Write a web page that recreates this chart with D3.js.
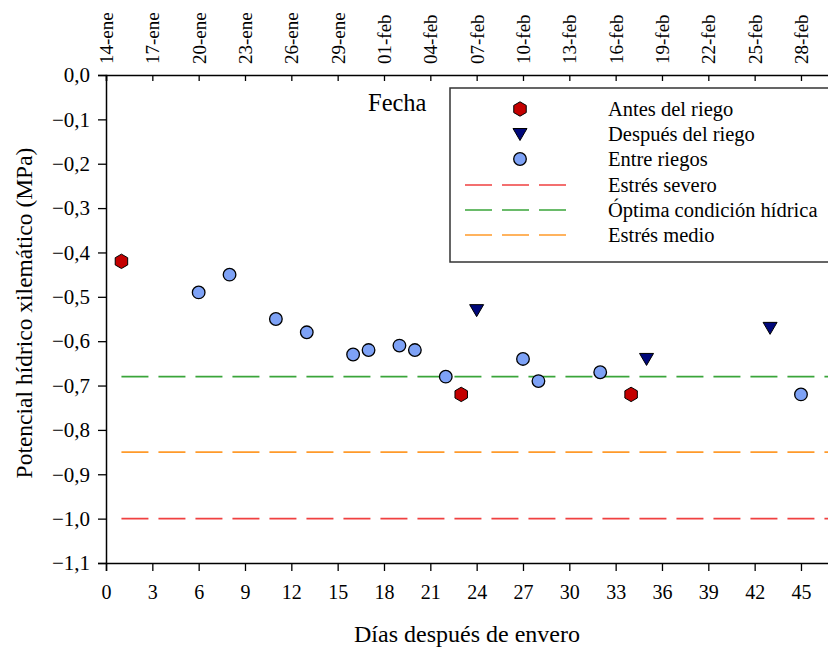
<!DOCTYPE html>
<html>
<head>
<meta charset="utf-8">
<script src="https://cdn.jsdelivr.net/npm/d3@7"></script>
<style>
  body { margin: 0; background: #fff; }
  svg { display: block; font-family: "Liberation Serif", "Times New Roman", serif; }
  svg text { font-family: "Liberation Serif", "Times New Roman", serif; }
</style>
</head>
<body>
<svg id="chart" width="828" height="648"></svg>
<script>
// ---- data ----
const antesDias = [1, 23, 34];
const antesVals = [-0.42, -0.72, -0.72];
const despuesDias = [24, 35, 43];
const despuesVals = [-0.53, -0.64, -0.57];
const entreDias = [6, 8, 11, 13, 16, 17, 19, 20, 22, 27, 28, 32, 45];
const entreVals = [-0.49, -0.45, -0.55, -0.58, -0.63, -0.62, -0.61, -0.62, -0.68, -0.64, -0.69, -0.67, -0.72];
const umbralNombres = ["Estrés severo", "Óptima condición hídrica", "Estrés medio"];
const umbralVals = [-1.0, -0.68, -0.85];
const umbralColores = ["#f04040", "#3aa53a", "#ff9a2a"];
const xTicks = [0, 3, 6, 9, 12, 15, 18, 21, 24, 27, 30, 33, 36, 39, 42, 45];
const fechaLabels = ["14-ene","17-ene","20-ene","23-ene","26-ene","29-ene","01-feb","04-feb","07-feb","10-feb","13-feb","16-feb","19-feb","22-feb","25-feb","28-feb"];
const yTicks = [0, -0.1, -0.2, -0.3, -0.4, -0.5, -0.6, -0.7, -0.8, -0.9, -1.0, -1.1];

const FONT = "'Liberation Serif', 'Times New Roman', serif";
const svg = d3.select("#chart");
const x = d3.scaleLinear().domain([0, 48]).range([106, 106 + 48 * 15.444]);
const y = d3.scaleLinear().domain([-1.1, 0]).range([563, 75]);
const fmt = v => (v === 0 ? "0,0" : d3.format(".1f")(v).replace(".", ",").replace("-", "\u2212"));

// threshold lines
umbralVals.forEach((v, i) => {
  svg.append("line")
    .attr("x1", x(1)).attr("x2", x(48))
    .attr("y1", y(v)).attr("y2", y(v))
    .attr("stroke", umbralColores[i]).attr("stroke-width", 1.6)
    .attr("stroke-dasharray", "27,10");
});

// bottom axis
const gx = svg.append("g").attr("transform", `translate(0,${y(-1.1)})`)
  .call(d3.axisBottom(x).tickValues(xTicks).tickSizeOuter(0).tickSize(8).tickPadding(14).tickFormat(d3.format("d")));
// left axis
const gy = svg.append("g").attr("transform", `translate(${x(0)},0)`)
  .call(d3.axisLeft(y).tickValues(yTicks).tickSizeOuter(0).tickSize(8).tickPadding(8).tickFormat(fmt));
// top axis
const gt = svg.append("g").attr("transform", `translate(0,${y(0)})`)
  .call(d3.axisTop(x).tickValues(xTicks).tickSizeOuter(0).tickSize(-6).tickFormat((d, i) => fechaLabels[i]));

[gx, gy, gt].forEach(g => {
  g.attr("font-family", null).style("font-family", FONT);
  g.selectAll("path.domain").attr("stroke", "#000").attr("stroke-width", 1.5);
  g.selectAll(".tick line").attr("stroke", "#000").attr("stroke-width", 1.3);
  g.selectAll("text").attr("fill", "#000").style("font-family", FONT);
});
gx.selectAll("text").style("font-size", "20px");
gy.selectAll("text").style("font-size", "21px");
gt.selectAll("text").style("font-size", "19px")
  .attr("transform", "translate(0,-11) rotate(-90)")
  .attr("x", 0).attr("y", 0).attr("dy", "0.35em")
  .attr("text-anchor", "start");

// axis titles
svg.append("text").attr("x", 467).attr("y", 642).attr("text-anchor", "middle")
  .style("font-size", "24px").text("Días después de envero");
svg.append("text").attr("transform", "translate(32,313) rotate(-90)").attr("text-anchor", "middle")
  .style("font-size", "23.5px").text("Potencial hídrico xilemático (MPa)");
svg.append("text").attr("x", 368).attr("y", 111)
  .style("font-size", "24.5px").text("Fecha");

// marker shapes
function hexPath(r) {
  const pts = d3.range(6).map(k => {
    const a = Math.PI / 180 * (60 * k - 90);
    return [r * Math.cos(a), r * Math.sin(a)];
  });
  return "M" + pts.map(p => p.join(",")).join("L") + "Z";
}
const triPath = "M-7,-5.5L7,-5.5L0,6.5Z";

function drawHex(sel, cx, cy) {
  sel.append("path").attr("d", hexPath(7.2)).attr("transform", `translate(${cx},${cy})`)
    .attr("fill", "#c40000").attr("stroke", "#000").attr("stroke-width", 1);
}
function drawTri(sel, cx, cy) {
  sel.append("path").attr("d", triPath).attr("transform", `translate(${cx},${cy})`)
    .attr("fill", "#00087a").attr("stroke", "#000").attr("stroke-width", 1);
}
function drawCirc(sel, cx, cy) {
  sel.append("circle").attr("cx", cx).attr("cy", cy).attr("r", 6.3)
    .attr("fill", "#7ea2f6").attr("stroke", "#000").attr("stroke-width", 1.3);
}

const pts = svg.append("g");
entreDias.forEach((d, i) => drawCirc(pts, x(d), y(entreVals[i])));
antesDias.forEach((d, i) => drawHex(pts, x(d), y(antesVals[i])));
despuesDias.forEach((d, i) => drawTri(pts, x(d), y(despuesVals[i])));

// legend
const lg = svg.append("g");
lg.append("rect").attr("x", 450).attr("y", 88).attr("width", 400).attr("height", 174)
  .attr("fill", "#fff").attr("stroke", "#333").attr("stroke-width", 1.5);
const rowY = [109, 134, 159, 185, 210, 235];
const legNames = ["Antes del riego", "Después del riego", "Entre riegos"].concat(umbralNombres);
drawHex(lg, 520, rowY[0]);
drawTri(lg, 520, rowY[1]);
drawCirc(lg, 520, rowY[2]);
[0, 1, 2].forEach(i => {
  lg.append("line").attr("x1", 465).attr("x2", 566)
    .attr("y1", rowY[3 + i]).attr("y2", rowY[3 + i])
    .attr("stroke", umbralColores[i]).attr("stroke-width", 1.6)
    .attr("stroke-dasharray", "27,10");
});
legNames.forEach((n, i) => {
  lg.append("text").attr("x", 608).attr("y", rowY[i]).attr("dy", "0.35em")
    .style("font-size", "20.5px").text(n);
});
</script>
</body>
</html>
